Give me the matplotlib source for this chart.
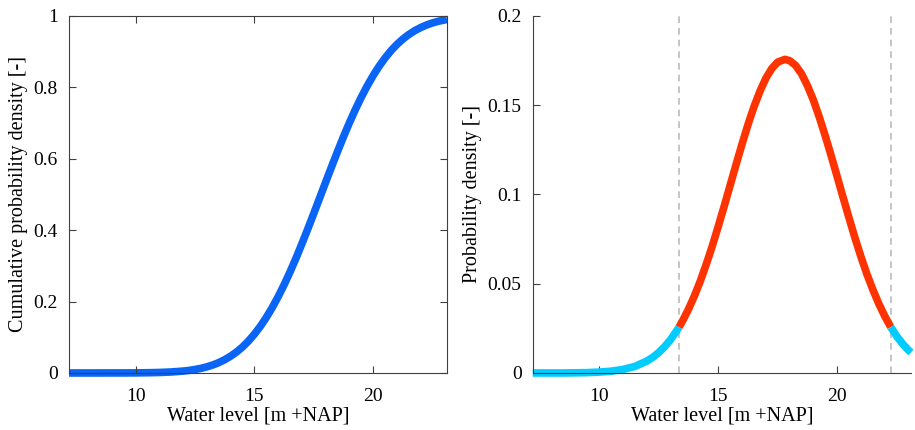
import matplotlib.pyplot as plt
import numpy as np

# values
water_level = [7.2, 7.5, 8.0, 8.5, 9.0, 9.5, 10.0, 10.5, 11.0, 11.5,
               12.0, 12.25, 12.5, 12.75, 13.0, 13.25, 13.35, 13.5, 13.75, 14.0,
               14.25, 14.5, 14.75, 15.0, 15.25, 15.5, 15.75, 16.0, 16.25, 16.5,
               16.75, 17.0, 17.25, 17.5, 17.8, 18.0, 18.25, 18.5, 18.75, 19.0,
               19.25, 19.5, 19.75, 20.0, 20.25, 20.5, 20.75, 21.0, 21.25, 21.5,
               21.75, 22.0, 22.25, 22.5, 22.75, 23.0, 23.1]
cdf_values = [0.0, 0.0, 0.0, 0.0, 0.0001, 0.0001, 0.0003, 0.0007, 0.0014, 0.0028,
              0.0053, 0.0072, 0.0098, 0.0130, 0.0172, 0.0225, 0.0250, 0.0291, 0.0372, 0.0471,
              0.0589, 0.0729, 0.0895, 0.1088, 0.1307, 0.1555, 0.1833, 0.2139, 0.2473, 0.2833,
              0.3217, 0.3624, 0.4044, 0.4475, 0.5, 0.5351, 0.5785, 0.6209, 0.6624, 0.7016,
              0.7386, 0.7731, 0.8048, 0.8337, 0.8597, 0.8828, 0.9032, 0.9207, 0.9357, 0.9484,
              0.9591, 0.9678, 0.9750, 0.9808, 0.9854, 0.9890, 0.9902]
pdf_values = [0.0, 0.0, 0.0, 0.0, 0.0001, 0.0002, 0.0005, 0.0010, 0.0020, 0.0037,
              0.0067, 0.0088, 0.0115, 0.0148, 0.0188, 0.0236, 0.0257, 0.0292, 0.0358, 0.0433,
              0.0517, 0.0611, 0.0712, 0.0822, 0.0935, 0.1052, 0.1169, 0.1283, 0.1392, 0.1491,
              0.1578, 0.1651, 0.1706, 0.1742, 0.1757, 0.1750, 0.1723, 0.1676, 0.1609, 0.1528,
              0.1432, 0.1327, 0.1215, 0.1099, 0.0982, 0.0867, 0.0755, 0.0650, 0.0553, 0.0466,
              0.0387, 0.0318, 0.0257, 0.0206, 0.0163, 0.0127, 0.0115]
bounds = [13.35, 22.25]

x = np.array(water_level)
cdf = np.array(cdf_values)
pdf = np.array(pdf_values)

plt.rcParams['font.family'] = ['Liberation Serif', 'DejaVu Serif']
plt.rcParams['font.size'] = 14
plt.rcParams['axes.labelsize'] = 14.5

blue = '#0A64F5'
cyan = '#00CCFF'
red = '#FF3300'
axcol = '#404040'
lw = 5.5

fig = plt.figure(figsize=(9.15, 4.3), dpi=100)
ax1 = fig.add_axes([0.0754, 0.1326, 0.4131, 0.8302])
ax2 = fig.add_axes([0.5822, 0.1326, 0.4134, 0.8302])

# left: cumulative
ax1.plot(x, cdf, color=blue, lw=lw, solid_capstyle='butt', solid_joinstyle='round',
         clip_on=False, zorder=1)
ax1.set_xlim(7.2, 23.1)
ax1.set_ylim(0, 1)
ax1.set_xticks([10, 15, 20])
ax1.set_yticks([0, 0.2, 0.4, 0.6, 0.8, 1])
ax1.set_yticklabels(['0', '0.2', '0.4', '0.6', '0.8', '1'])
ax1.tick_params(direction='in', top=True, right=True, color=axcol, length=5, pad=8)
ax1.tick_params(axis='x', pad=11)
for s in ax1.spines.values():
    s.set_color(axcol)
    s.set_zorder(3)
ax1.set_xlabel('Water level [m +NAP]', labelpad=1)
ax1.set_ylabel('Cumulative probability density [-]')

# right: density, split at the bounds
lo = x <= bounds[0]
mid = (x >= bounds[0]) & (x <= bounds[1])
hi = x >= bounds[1]
for mask, col in [(lo, cyan), (mid, red), (hi, cyan)]:
    ax2.plot(x[mask], pdf[mask], color=col, lw=lw, solid_capstyle='butt',
             solid_joinstyle='round', clip_on=False, zorder=2)
for b in bounds:
    ax2.axvline(b, color='#BBBBBB', lw=1.2, ls=(0, (4, 3)), zorder=1)
ax2.set_xlim(7.2, 23.1)
ax2.set_ylim(0, 0.2)
ax2.set_xticks([10, 15, 20])
ax2.set_yticks([0, 0.05, 0.1, 0.15, 0.2])
ax2.set_yticklabels(['0', '0.05', '0.1', '0.15', '0.2'])
ax2.tick_params(direction='in', color=axcol, length=5, pad=8)
ax2.tick_params(axis='x', pad=11)
ax2.spines['top'].set_visible(False)
ax2.spines['right'].set_visible(False)
for s in ax2.spines.values():
    s.set_color(axcol)
    s.set_zorder(3)
ax2.set_xlabel('Water level [m +NAP]', labelpad=1)
ax2.set_ylabel('Probability density [-]')

fig.savefig('out.png', dpi=100)
